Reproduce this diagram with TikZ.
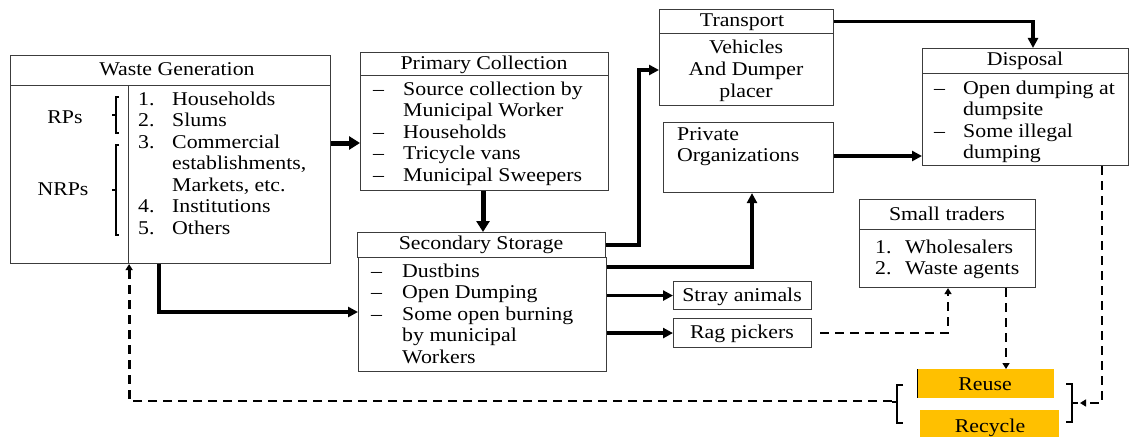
\documentclass[tikz,border=0pt]{standalone}
\usepackage{fontspec}
\setmainfont{Liberation Serif}[FakeStretch=1.12]
\usetikzlibrary{arrows.meta}
\definecolor{gold}{RGB}{255,192,0}
\definecolor{edge}{RGB}{60,60,60}
\begin{document}
\begin{tikzpicture}[x=1pt,y=-1pt,
  box/.style={draw=edge, line width=1.1pt, inner sep=0pt, anchor=north west},
  goldbox/.style={fill=gold, inner sep=0pt, anchor=north west},
  lt/.style={inner sep=0pt, anchor=base west, font=\fontsize{19.5}{21.5}\selectfont},
  ct/.style={inner sep=0pt, anchor=base, font=\fontsize{19.5}{21.5}\selectfont},
  bigarrow/.style={line width=5pt, -{Triangle[length=11pt,width=13pt]}},
  midarrow/.style={line width=3.2pt, -{Triangle[length=10pt,width=10pt]}},
  dashline/.style={line width=2.8pt, dash pattern=on 9pt off 6pt},
  dasharrow/.style={dashline, -{Triangle[length=6pt,width=7pt]}},
  brk/.style={line width=2.6pt}
]
\useasboundingbox (0,0) rectangle (1131,436);

% ---------- Waste Generation ----------
\node[box, minimum width=320pt, minimum height=30pt] (wgT) at (10,55) {};
\node[box, minimum width=118pt, minimum height=178pt] (wgL) at (10,85) {};
\node[box, minimum width=202pt, minimum height=178pt] (wgR) at (128,85) {};
\node[ct] (wgTt) at (177,75) {Waste Generation};
\node[ct] (rps) at (65,123) {RPs};
\node[ct] (nrps) at (63,195) {NRPs};
\draw[brk] (119,97) -- (116,97) -- (116,133) -- (119,133) (116,115) -- (112,115);
\draw[brk] (119,145) -- (116,145) -- (116,235) -- (119,235) (116,190) -- (112,190);
\foreach \n/\t/\y in {1/Households/105, 2/Slums/126.5, 3/Commercial/148, /{establishments,}/169.5, /{Markets, etc.}/191, 4/Institutions/212.5, 5/Others/234}{
  \node[lt] at (138,\y) {\ifx\n\empty\else\n.\fi};
  \node[lt] at (172,\y) {\t};
}

% ---------- Primary Collection ----------
\node[box, minimum width=248pt, minimum height=23pt] (pcT) at (360,52) {};
\node[box, minimum width=248pt, minimum height=115pt] (pcB) at (360,75) {};
\node[ct] (pcTt) at (484,70) {Primary Collection};
\foreach \d/\t/\y in {1/Source collection by/95, 0/Municipal Worker/116.5, 1/Households/138, 1/Tricycle vans/159.5, 1/Municipal Sweepers/181}{
  \ifnum\d=1 \node[lt] at (373,\y) {–};\fi
  \node[lt] at (403,\y) {\t};
}

% ---------- Secondary Storage ----------
\node[box, minimum width=248pt, minimum height=25pt] (ssT) at (357,232) {};
\node[box, minimum width=248pt, minimum height=114pt] (ssB) at (358,257) {};
\node[ct] (ssTt) at (481,249) {Secondary Storage};
\foreach \d/\t/\y in {1/Dustbins/277, 1/Open Dumping/298.5, 1/Some open burning/320, 0/by municipal/341.5, 0/Workers/363}{
  \ifnum\d=1 \node[lt] at (371,\y) {–};\fi
  \node[lt] at (402,\y) {\t};
}

% ---------- Transport ----------
\node[box, minimum width=174pt, minimum height=24pt] (trT) at (659,9) {};
\node[box, minimum width=174pt, minimum height=72pt] (trB) at (659,33) {};
\node[ct] (trTt) at (742,27) {Transport};
\node[ct] at (746,54) {Vehicles};
\node[ct] at (746,75.5) {And Dumper};
\node[ct] at (746,97) {placer};

% ---------- Private Organizations ----------
\node[box, minimum width=170pt, minimum height=70pt] (po) at (663,122) {};
\node[lt] at (677,140) {Private};
\node[lt] at (677,161.5) {Organizations};

% ---------- Disposal ----------
\node[box, minimum width=206pt, minimum height=25pt] (dsT) at (922,48) {};
\node[box, minimum width=206pt, minimum height=92pt] (dsB) at (922,73) {};
\node[ct] (dsTt) at (1025,66) {Disposal};
\foreach \d/\t/\y in {1/Open dumping at/94, 0/dumpsite/115.5, 1/Some illegal/137, 0/dumping/158.5}{
  \ifnum\d=1 \node[lt] at (934,\y) {–};\fi
  \node[lt] at (963,\y) {\t};
}

% ---------- Small traders ----------
\node[box, minimum width=176pt, minimum height=30pt] (stT) at (859,199) {};
\node[box, minimum width=176pt, minimum height=58pt] (stB) at (859,229) {};
\node[ct] (stTt) at (947,220) {Small traders};
\node[lt] at (875,253) {1.};
\node[lt] at (905,253) {Wholesalers};
\node[lt] at (875,274.5) {2.};
\node[lt] at (905,274.5) {Waste agents};

% ---------- Stray animals / Rag pickers ----------
\node[box, minimum width=138pt, minimum height=28pt] (stray) at (673,281) {};
\node[ct] at (742,301) {Stray animals};
\node[box, minimum width=138pt, minimum height=29pt] (rag) at (673,318) {};
\node[ct] at (742,338) {Rag pickers};

% ---------- Reuse / Recycle ----------
\node[goldbox, minimum width=137pt, minimum height=29pt] (reuse) at (917,369) {};
\draw[line width=0.8pt] (917,369) -- (917,398);
\node[ct] at (985,390) {Reuse};
\node[goldbox, minimum width=139pt, minimum height=32pt] (recycle) at (920,410) {};
\node[ct] at (990,432) {Recycle};
\draw[brk] (903,385) -- (897,385) -- (897,423) -- (903,423) (897,402) -- (892,402);
\draw[brk] (1066,384) -- (1072,384) -- (1072,422) -- (1066,422) (1072,403) -- (1078,403);
\coordinate (lbr) at (892,401);
\coordinate (rbr) at (1080,403);

% ---------- Connectors ----------
\draw[bigarrow] (wgR.east |- 0,143) -- (pcB.west |- 0,143);
\draw[bigarrow] (pcB.south -| 483,0) -- (ssT.north -| 483,0);
\draw[midarrow] (wgR.south -| 159,0) |- (ssB.west |- 0,312);
\draw[midarrow] (ssT.east) -| (639,70) -- (trB.west |- 0,70);
\draw[midarrow] (ssB.east |- 0,267) -| (po.south -| 752,0);
\draw[midarrow] (ssB.east |- stray.west) -- (stray.west);
\draw[midarrow] (ssB.east |- rag.west) -- (rag.west);
\draw[midarrow] (trT.east) -| (dsT.north -| 1033,0);
\draw[midarrow] (po.east |- 0,156) -- (dsB.west |- 0,156);
\draw[dasharrow] ([xshift=8pt]rag.east) -| (stB.south -| 948,0);
\draw[dasharrow] (stB.south -| 1006,0) -- (reuse.north -| 1006,0);
\draw[dasharrow] (dsB.south -| 1102,0) |- (rbr);
\draw[dasharrow] (lbr) -| (wgL.south east);
\end{tikzpicture}
\end{document}
